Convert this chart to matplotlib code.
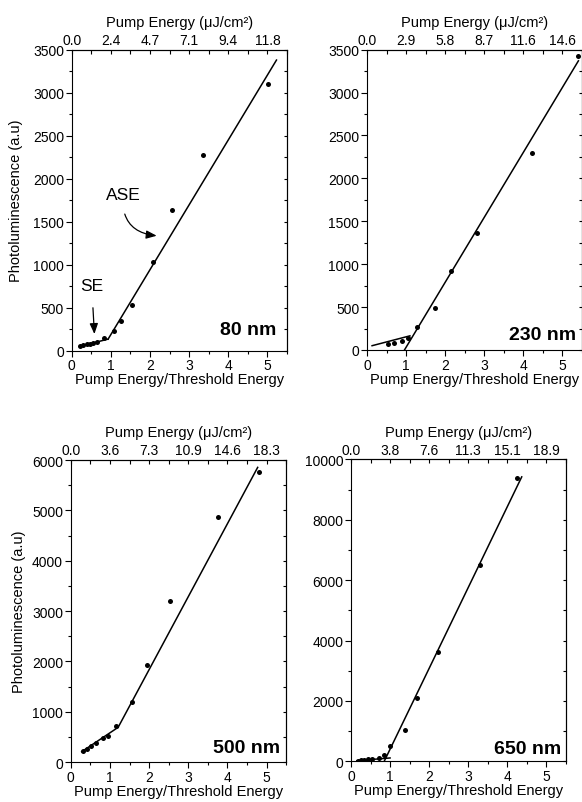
import numpy as np
import matplotlib
matplotlib.use("Agg")
import matplotlib.pyplot as plt
from matplotlib.ticker import MultipleLocator

plt.rcParams['font.family'] = ['Liberation Sans', 'DejaVu Sans']

# x = pump energy / threshold energy, y = photoluminescence (a.u)
x80 = [0.21, 0.30, 0.38, 0.47, 0.55, 0.64, 0.83, 1.07, 1.27, 1.53, 2.08, 2.57, 3.36, 5.01]
y80 = [58, 66, 74, 81, 89, 105, 147, 228, 345, 535, 1028, 1640, 2280, 3100]
se80_x, se80_y = [0.20, 0.93], [50, 135]
ase80_x, ase80_y = [0.93, 5.23], [135, 3380]
top80 = ['0.0', '2.4', '4.7', '7.1', '9.4', '11.8']

x230 = [0.53, 0.68, 0.89, 1.06, 1.28, 1.74, 2.15, 2.81, 4.22, 5.40]
y230 = [70, 82, 109, 136, 272, 486, 921, 1364, 2292, 3430]
se230_x, se230_y = [0.13, 1.10], [50, 165]
ase230_x, ase230_y = [0.96, 5.42], [0, 3370]
top230 = ['0.0', '2.9', '5.8', '8.7', '11.6', '14.6']

x500 = [0.32, 0.42, 0.51, 0.65, 0.82, 0.96, 1.16, 1.57, 1.94, 2.53, 3.77, 4.81]
y500 = [212, 258, 311, 371, 470, 523, 715, 1185, 1927, 3205, 4875, 5768]
se500_x, se500_y = [0.28, 1.21], [205, 689]
ase500_x, ase500_y = [1.21, 4.77], [689, 5855]
top500 = ['0.0', '3.6', '7.3', '10.9', '14.6', '18.3']

x650 = [0.17, 0.26, 0.34, 0.43, 0.55, 0.71, 0.85, 1.01, 1.38, 1.69, 2.22, 3.31, 4.24]
y650 = [20, 40, 50, 60, 70, 110, 220, 505, 1025, 2105, 3607, 6510, 9370]
se650_x, se650_y = [0.15, 1.00], [20, 110]
ase650_x, ase650_y = [0.85, 4.37], [0, 9420]
top650 = ['0.0', '3.8', '7.6', '11.3', '15.1', '18.9']


def panel(fig, rect, x, y, se, ase, top_labels, ymax, ymajor, name, name_pos,
          ylabel=True, ypad=5):
    ax = fig.add_axes(rect)
    ax.plot(se[0], se[1], color='black', lw=1.1)
    ax.plot(ase[0], ase[1], color='black', lw=1.1)
    ax.plot(x, y, 'o', color='black', ms=3.6, mew=0)

    ax.set_xlim(0, 5.5)
    ax.set_ylim(0, ymax)
    ax.xaxis.set_major_locator(MultipleLocator(1))
    ax.xaxis.set_minor_locator(MultipleLocator(0.5))
    ax.yaxis.set_major_locator(MultipleLocator(ymajor))
    ax.yaxis.set_minor_locator(MultipleLocator(ymajor / 2))
    ax.tick_params(which='both', direction='out', top=False, right=False,
                   labelsize=10, pad=1.5, width=0.8)
    ax.tick_params(which='major', length=4)
    ax.tick_params(which='minor', length=2.5)
    for s in ax.spines.values():
        s.set_linewidth(0.8)

    ax.set_xlabel('Pump Energy/Threshold Energy', fontsize=10.5, labelpad=0)
    if ylabel:
        ax.set_ylabel('Photoluminescence (a.u)', fontsize=10.5, labelpad=ypad)

    # top axis in absolute pump energy
    sec = ax.secondary_xaxis('top')
    sec.set_xticks(range(len(top_labels)), top_labels)
    sec.xaxis.set_minor_locator(MultipleLocator(0.5))
    sec.tick_params(which='both', direction='in', length=3, width=0.8,
                    labelsize=10, pad=2)
    sec.set_xlabel('Pump Energy (\u03bcJ/cm\u00b2)', fontsize=10.5, labelpad=5)

    right = ax.secondary_yaxis('right')
    right.yaxis.set_major_locator(MultipleLocator(ymajor))
    right.yaxis.set_minor_locator(MultipleLocator(ymajor / 2))
    right.tick_params(which='both', direction='in', length=2.5, width=0.8,
                      labelright=False)

    ax.text(name_pos[0], name_pos[1], name, transform=ax.transAxes,
            ha='right', va='center', fontsize=14, fontweight='bold')
    return ax


fig = plt.figure(figsize=(5.82, 8.03), dpi=100)

ax1 = panel(fig, [0.1232, 0.562, 0.370, 0.3748], x80, y80,
            (se80_x, se80_y), (ase80_x, ase80_y), top80, 3500, 500,
            '80 nm', (0.949, 0.072), ypad=7)
ax1.annotate('ASE', xy=(2.17, 1337), xytext=(1.32, 1820), fontsize=12.5,
             ha='center', va='center',
             arrowprops=dict(arrowstyle='-|>,head_length=0.5,head_width=0.2',
                             color='black', lw=0.9, shrinkA=7, shrinkB=0,
                             connectionstyle='arc3,rad=0.5'))
ax1.annotate('SE', xy=(0.58, 194), xytext=(0.51, 764), fontsize=12.5,
             ha='center', va='center',
             arrowprops=dict(arrowstyle='-|>,head_length=0.5,head_width=0.2',
                             color='black', lw=0.9, shrinkA=9, shrinkB=0))

panel(fig, [0.6306, 0.5629, 0.3686, 0.374], x230, y230,
      (se230_x, se230_y), (ase230_x, ase230_y), top230, 3500, 500,
      '230 nm', (0.974, 0.053), ylabel=False)

panel(fig, [0.1215, 0.0498, 0.3704, 0.376], x500, y500,
      (se500_x, se500_y), (ase500_x, ase500_y), top500, 6000, 1000,
      '500 nm', (0.971, 0.049), ypad=4)

panel(fig, [0.6031, 0.0507, 0.3692, 0.376], x650, y650,
      (se650_x, se650_y), (ase650_x, ase650_y), top650, 10000, 2000,
      '650 nm', (0.98, 0.043), ylabel=False)

fig.savefig('out.png', dpi=100)
plt.close(fig)
